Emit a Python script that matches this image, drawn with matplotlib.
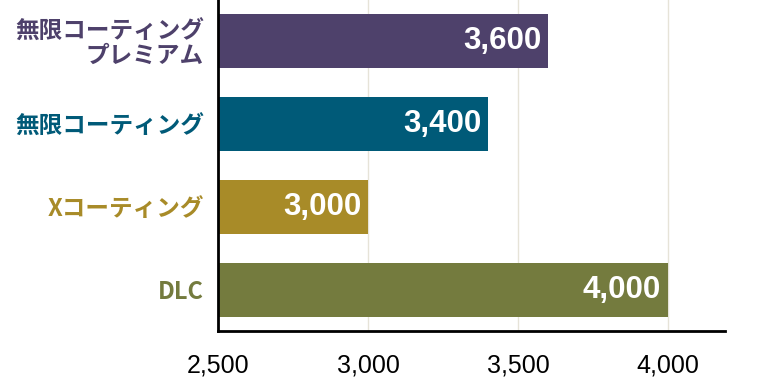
import matplotlib.pyplot as plt

categories = ["DLC", "Xコーティング", "無限コーティング", "無限コーティング\nプレミアム"]
values = [4000, 3000, 3400, 3600]
colors = ["#747B3E", "#A88B28", "#005A78", "#4E416B"]
xticks = [2500, 3000, 3500, 4000]

plt.rcParams['font.family'] = ['Noto Sans CJK JP', 'DejaVu Sans']

fig = plt.figure(figsize=(7.68, 3.8), dpi=100)
ax = fig.add_axes([218 / 768, 1 - 331 / 380, (725 - 218) / 768, 331 / 380])

y = range(len(categories))
ax.barh(y, values, height=0.65, color=colors, zorder=2)

for i, v in enumerate(values):
    ax.annotate(f"{v:,}", (v, i), xytext=(-5, 0), textcoords="offset points",
                ha="right", va="center", color="white", fontsize=22.5,
                fontweight="bold", family="Liberation Sans", zorder=3)

ax.set_xlim(2500, 4190)
ax.set_ylim(-0.5, 3.5)
ax.set_xticks(xticks)
ax.set_xticklabels([f"{t:,}" for t in xticks], family="Liberation Sans", fontsize=18)
ax.set_yticks(list(y))
ax.set_yticklabels(categories, fontsize=17, fontweight="bold", linespacing=1.0)
for lbl, c in zip(ax.get_yticklabels(), colors):
    lbl.set_color(c)
    lbl.set_horizontalalignment("right")
ax.tick_params(axis="x", length=0, pad=16)
ax.tick_params(axis="y", length=0, pad=10)

ax.grid(axis="x", color="#E6E3D8", linewidth=1, zorder=0)
for s in ["top", "right"]:
    ax.spines[s].set_visible(False)
for s in ["left", "bottom"]:
    ax.spines[s].set_linewidth(2)
    ax.spines[s].set_color("black")
    ax.spines[s].set_zorder(4)

fig.savefig("out.png", dpi=100)
